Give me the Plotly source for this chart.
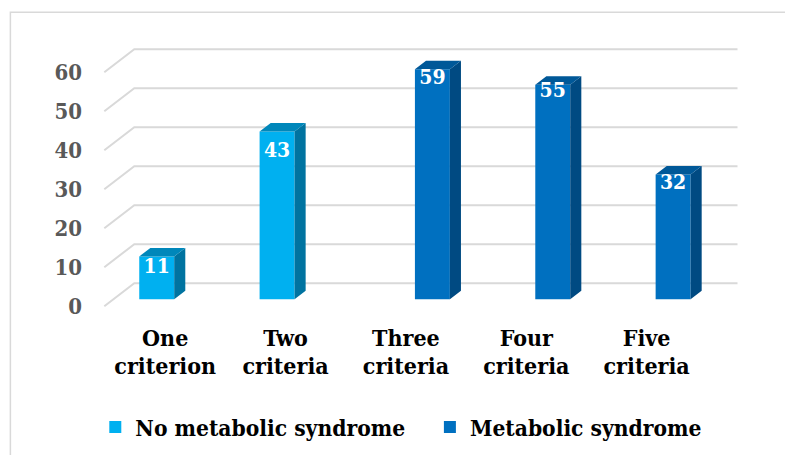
import plotly.graph_objects as go

# ---------------- data ----------------
categories_line1 = ["One", "Two", "Three", "Four", "Five"]
categories_line2 = ["criterion", "criteria", "criteria", "criteria", "criteria"]
series_names = ["No metabolic syndrome", "Metabolic syndrome"]
no_metabolic = [11, 43, None, None, None]
metabolic = [None, None, 59, 55, 32]
y_ticks = [0, 10, 20, 30, 40, 50, 60]

# ---------------- style / geometry ----------------
FRONT = ["#00B0F0", "#0070C0"]
SIDE = ["#0073A0", "#004A82"]
TOP = ["#0087BA", "#005898"]
GRID = "#D9D9D9"
FONT = "DejaVu Serif Condensed, DejaVu Serif, serif"

W, H = 785, 455
PX_X, PX_Y = 120.5, 3.9
X0_PX, Y0_PX = 165, 306
XMIN, XMAX = -0.6, 5.0
YMIN, YMAX = -2, 68
ML = X0_PX + XMIN * PX_X
PLOT_W = (XMAX - XMIN) * PX_X
MR = W - ML - PLOT_W
MT = Y0_PX - YMAX * PX_Y
PLOT_H = (YMAX - YMIN) * PX_Y
MB = H - MT - PLOT_H

WALL_DX, WALL_DY = 30 / PX_X, 23 / PX_Y
FLOOR_L, FLOOR_R = -0.506, 4.506
PLANE_F = 0.3
BAR_F = 0.37
BAR_W = 35 / PX_X
SLOTS = [-0.5, 0.5]
LABEL_DY_PX = [11, 20, 10, 7, 9]


def px_to_paper_x(px):
    return (px - ML) / PLOT_W


def px_to_paper_y(py):
    return (MT + PLOT_H - py) / PLOT_H


fig = go.Figure()

series = [no_metabolic, metabolic]
label_x, label_y, label_t = [], [], []
for s, vals in enumerate(series):
    xs, ys = [], []
    side_x, side_y, top_x, top_y = [], [], [], []
    for i, v in enumerate(vals):
        if v is None:
            continue
        xc = i + PLANE_F * WALL_DX + SLOTS[s] * BAR_W
        yb = PLANE_F * WALL_DY
        yt = yb + v
        xl, xr = xc - BAR_W / 2, xc + BAR_W / 2
        ddx, ddy = BAR_F * WALL_DX, BAR_F * WALL_DY
        xs.append(xc)
        ys.append(v)
        side_x += [xr, xr + ddx, xr + ddx, xr, xr, None]
        side_y += [yb, yb + ddy, yt + ddy, yt, yb, None]
        top_x += [xl, xr, xr + ddx, xl + ddx, xl, None]
        top_y += [yt, yt, yt + ddy, yt + ddy, yt, None]
        label_x.append(xc)
        label_y.append(yt - LABEL_DY_PX[i] / PX_Y)
        label_t.append(str(v))
    fig.add_trace(go.Bar(
        x=xs, y=ys, base=PLANE_F * WALL_DY, width=BAR_W,
        marker=dict(color=FRONT[s], line=dict(width=0)),
        name=series_names[s], legend="legend" if s == 0 else "legend2",
        hoverinfo="skip",
    ))
    fig.add_trace(go.Scatter(
        x=side_x, y=side_y, fill="toself", fillcolor=SIDE[s], mode="lines",
        line=dict(width=0, color=SIDE[s]), showlegend=False, hoverinfo="skip",
    ))
    fig.add_trace(go.Scatter(
        x=top_x, y=top_y, fill="toself", fillcolor=TOP[s], mode="lines",
        line=dict(width=0, color=TOP[s]), showlegend=False, hoverinfo="skip",
    ))

fig.add_trace(go.Scatter(
    x=label_x, y=label_y, text=label_t, mode="text", xaxis="x2",
    textfont=dict(family=FONT, size=21, color="white", weight="bold"),
    showlegend=False, hoverinfo="skip",
))

shapes = []
for v in y_ticks:
    x0, y0 = FLOOR_L, v
    x1, y1 = FLOOR_L + WALL_DX, v + WALL_DY
    x2 = FLOOR_R + WALL_DX
    shapes.append(dict(
        type="path", xref="x", yref="y", layer="below",
        path=f"M{x0},{y0} L{x1},{y1} L{x2},{y1}",
        line=dict(color=GRID, width=2),
    ))
shapes.append(dict(
    type="rect", xref="paper", yref="paper", layer="below",
    x0=px_to_paper_x(10), x1=px_to_paper_x(900),
    y0=px_to_paper_y(600), y1=px_to_paper_y(12),
    line=dict(color=GRID, width=1.5), fillcolor="rgba(0,0,0,0)",
))

legend_common = dict(
    orientation="h", yanchor="middle", xanchor="left",
    font=dict(family=FONT, size=22.6, color="black", weight="bold"),
    bgcolor="rgba(0,0,0,0)", borderwidth=0,
)

fig.update_layout(
    width=W, height=H,
    margin=dict(l=ML, r=MR, t=MT, b=MB, pad=0, autoexpand=False),
    paper_bgcolor="white", plot_bgcolor="white",
    barmode="overlay",
    showlegend=True,
    shapes=shapes,
    legend=dict(x=px_to_paper_x(95), y=px_to_paper_y(427), **legend_common),
    legend2=dict(x=px_to_paper_x(430), y=px_to_paper_y(427), **legend_common),
    xaxis=dict(
        range=[XMIN, XMAX], tickvals=list(range(5)), ticktext=categories_line1,
        showgrid=False, zeroline=False, showline=False, ticks="",
        tickfont=dict(family=FONT, size=23, color="black", weight="bold"),
        ticklabelstandoff=8,
    ),
    xaxis2=dict(
        range=[XMIN, XMAX], tickvals=list(range(5)), ticktext=categories_line2,
        overlaying="x", anchor="y", side="bottom",
        showgrid=False, zeroline=False, showline=False, ticks="",
        tickfont=dict(family=FONT, size=23, color="black", weight="bold"),
        ticklabelstandoff=36,
    ),
    yaxis=dict(
        range=[YMIN, YMAX], tickvals=y_ticks,
        showgrid=False, zeroline=False, showline=False, ticks="",
        tickfont=dict(family=FONT, size=22, color="#595959", weight="bold"),
        ticklabelstandoff=10,
    ),
)

fig.write_html("out.html")
